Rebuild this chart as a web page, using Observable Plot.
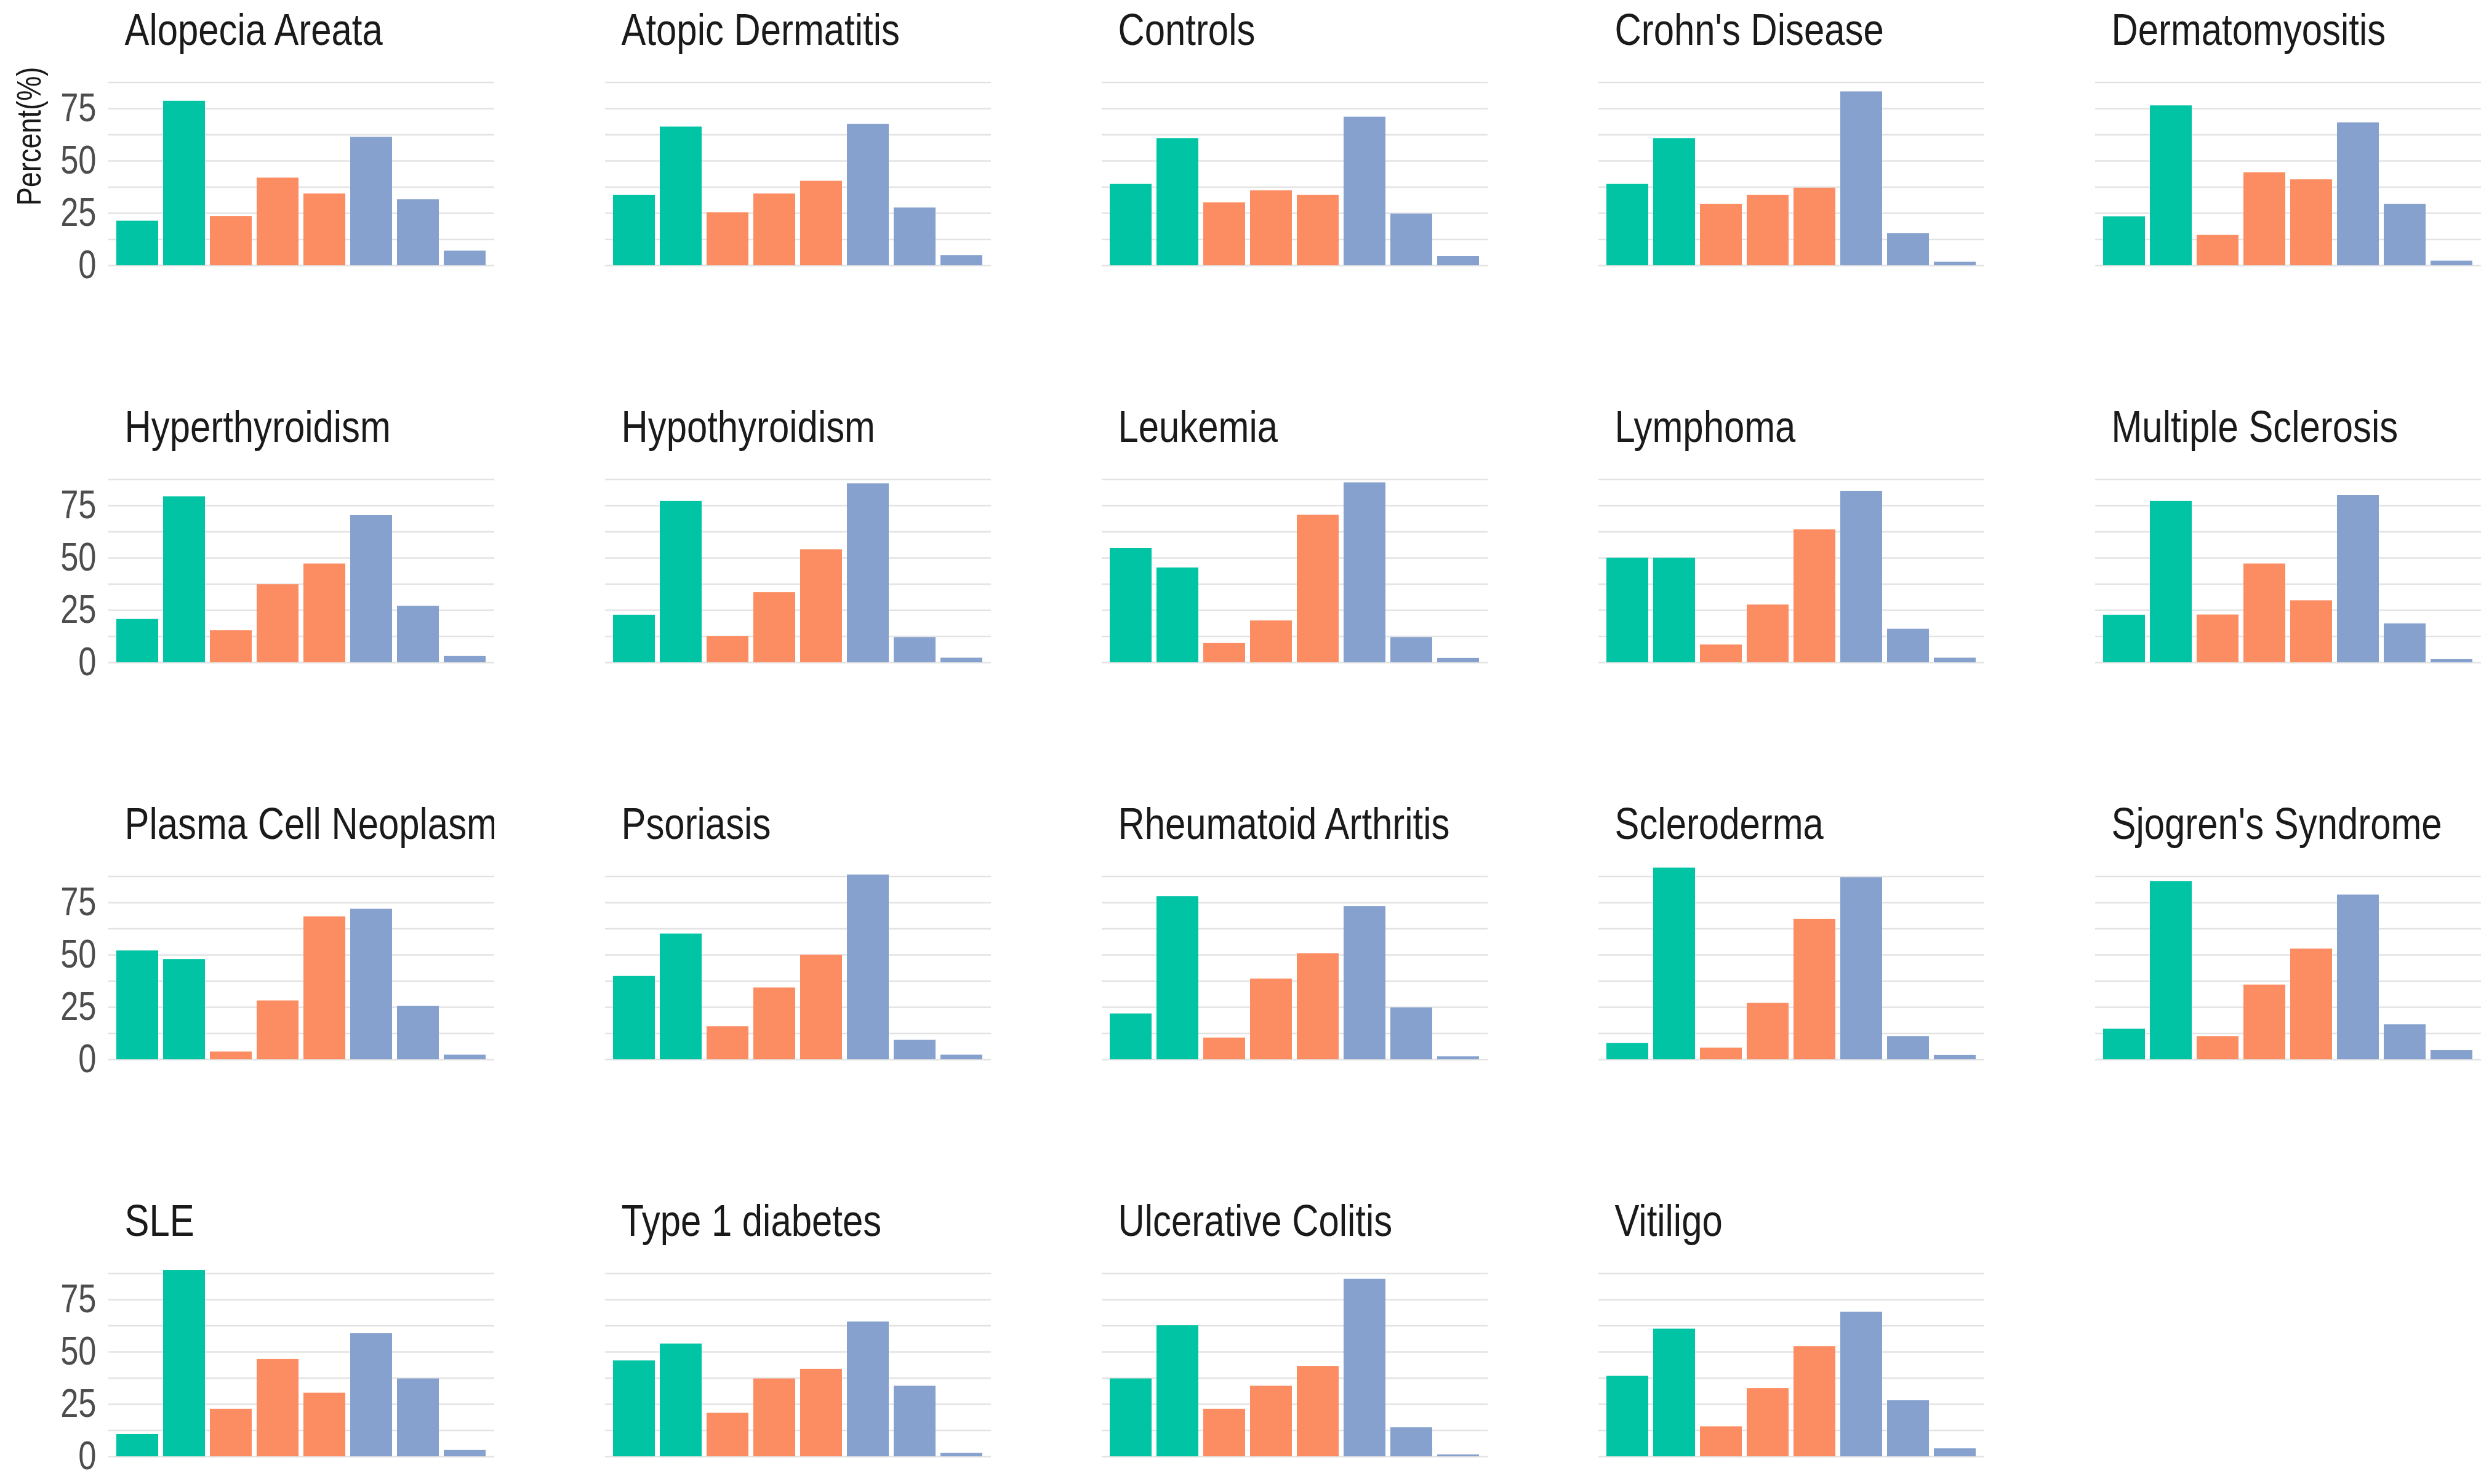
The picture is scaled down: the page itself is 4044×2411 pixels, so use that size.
<!DOCTYPE html>
<html>
<head>
<meta charset="utf-8">
<script src="https://cdn.jsdelivr.net/npm/d3@7"></script>
<script src="https://cdn.jsdelivr.net/npm/@observablehq/plot@0.6"></script>
<style>
  html, body { margin: 0; padding: 0; background: #ffffff; }
</style>
</head>
<body>
<div id="chart"></div>
<script>
// ---- data ----
const panelNames = [
  "Alopecia Areata", "Atopic Dermatitis", "Controls", "Crohn's Disease", "Dermatomyositis",
  "Hyperthyroidism", "Hypothyroidism", "Leukemia", "Lymphoma", "Multiple Sclerosis",
  "Plasma Cell Neoplasm", "Psoriasis", "Rheumatoid Arthritis", "Scleroderma", "Sjogren's Syndrome",
  "SLE", "Type 1 diabetes", "Ulcerative Colitis", "Vitiligo"
];
const categories = ["A1", "A2", "G1", "G2", "G3", "H1", "H2", "H3"];
const categoryGroup = ["Group 1", "Group 1", "Group 2", "Group 2", "Group 2", "Group 3", "Group 3", "Group 3"];
const groupNames = ["Group 1", "Group 2", "Group 3"];
const groupColors = ["#00c4a4", "#fc8d62", "#86a1cd"];
const yTicks = [0, 25, 50, 75];
const gridValues = [0, 12.5, 25, 37.5, 50, 62.5, 75, 87.5];
const yLabel = "Percent(%)";

const alopeciaAreata      = [21.3, 78.6, 23.5, 41.9, 34.3, 61.4, 31.6, 7.0];
const atopicDermatitis    = [33.6, 66.3, 25.3, 34.3, 40.4, 67.6, 27.6, 4.9];
const controls            = [38.9, 60.8, 30.1, 35.8, 33.6, 71.0, 24.7, 4.4];
const crohnsDisease       = [38.9, 60.8, 29.4, 33.6, 37.1, 83.1, 15.3, 1.7];
const dermatomyositis     = [23.4, 76.4, 14.5, 44.4, 41.1, 68.3, 29.4, 2.2];
const hyperthyroidism     = [20.7, 79.3, 15.3, 37.3, 47.2, 70.3, 27.0, 3.0];
const hypothyroidism      = [22.7, 77.1, 12.6, 33.5, 54.0, 85.5, 12.0, 2.2];
const leukemia            = [54.7, 45.3, 9.2, 20.0, 70.5, 86.0, 12.0, 2.1];
const lymphoma            = [50.0, 50.0, 8.5, 27.6, 63.5, 81.8, 16.0, 2.2];
const multipleSclerosis   = [22.7, 77.1, 22.8, 47.2, 29.6, 80.0, 18.6, 1.5];
const plasmaCellNeoplasm  = [52.0, 47.9, 3.7, 28.1, 68.3, 71.9, 25.6, 2.2];
const psoriasis           = [39.8, 60.1, 15.8, 34.3, 50.0, 88.3, 9.3, 2.2];
const rheumatoidArthritis = [21.9, 77.9, 10.4, 38.6, 50.7, 73.2, 24.8, 1.4];
const scleroderma         = [7.8, 91.6, 5.6, 27.0, 67.1, 87.0, 11.1, 2.1];
const sjogrensSyndrome    = [14.6, 85.2, 11.1, 35.7, 52.9, 78.7, 16.7, 4.4];
const sle                 = [10.6, 89.1, 22.7, 46.5, 30.4, 58.8, 37.2, 3.0];
const type1Diabetes       = [45.8, 53.9, 20.8, 37.2, 41.8, 64.4, 33.7, 1.6];
const ulcerativeColitis   = [37.2, 62.6, 22.7, 33.7, 43.2, 84.8, 13.9, 0.9];
const vitiligo            = [38.5, 61.0, 14.3, 32.6, 52.6, 69.1, 26.8, 3.8];

const panelValues = [
  alopeciaAreata, atopicDermatitis, controls, crohnsDisease, dermatomyositis,
  hyperthyroidism, hypothyroidism, leukemia, lymphoma, multipleSclerosis,
  plasmaCellNeoplasm, psoriasis, rheumatoidArthritis, scleroderma, sjogrensSyndrome,
  sle, type1Diabetes, ulcerativeColitis, vitiligo
];

// ---- tables built from the arrays ----
const nCols = 5;
const panels = panelNames.map((name, i) => ({name, col: i % nCols, row: Math.floor(i / nCols)}));
const bars = panels.flatMap((p, i) => panelValues[i].map((v, j) => ({
  ...p, cat: categories[j], group: categoryGroup[j], value: v
})));
const grid = panels.flatMap(p => gridValues.map(g => ({...p, g})));
const axisTitle = [{col: 0, row: 0, label: yLabel}];

const FONT = "'Liberation Sans Narrow', 'Liberation Sans', Arial, sans-serif";
const NARROW = 0.82; // horizontal condensing of the reference's narrow type

const chart = Plot.plot({
  width: 4044,
  height: 2411,
  marginLeft: 176,
  marginRight: 12,
  marginTop: 10,
  marginBottom: 45,
  style: {fontFamily: FONT, background: "#ffffff", overflow: "visible"},
  fx: {domain: [0, 1, 2, 3, 4], paddingInner: 0.223, paddingOuter: 0, axis: null},
  fy: {domain: [0, 1, 2, 3], paddingInner: 0.3491, paddingOuter: 0, axis: null},
  x: {domain: categories, paddingInner: 0.1, paddingOuter: 0.15, axis: null},
  y: {domain: [0, 123.53]},
  color: {domain: groupNames, range: groupColors},
  marks: [
    Plot.ruleY(grid, {fx: "col", fy: "row", y: "g", stroke: "#e3e3e3", strokeWidth: 2.6}),
    Plot.barY(bars, {fx: "col", fy: "row", x: "cat", y: "value", fill: "group"}),
    Plot.axisY({
      ticks: yTicks, tickSize: 0, tickPadding: 20, fontSize: 64,
      fill: "#4d4d4d", facetAnchor: "left", label: null
    }),
    Plot.text(panels, {
      fx: "col", fy: "row", text: "name", frameAnchor: "top-left",
      dx: 26, dy: 61, lineAnchor: "bottom", textAnchor: "start",
      fontSize: 73, fill: "#1a1a1a", clip: "frame"
    }),
    Plot.text(axisTitle, {
      fx: "col", fy: "row", text: "label", frameAnchor: "top-left",
      dx: -128, dy: 210, rotate: -90, textAnchor: "middle", lineAnchor: "middle",
      fontSize: 55, fill: "#1a1a1a"
    })
  ]
});

document.getElementById("chart").appendChild(chart);

// condense every text horizontally around its own anchor (narrow typeface look)
d3.select(chart).selectAll("text").each(function () {
  const t = this.getAttribute("transform") || "";
  let x = parseFloat(this.getAttribute("x"));
  if (!isFinite(x)) x = 0;
  this.setAttribute("transform",
    `${t} translate(${x},0) scale(${NARROW},1) translate(${-x},0)`.trim());
});
</script>
</body>
</html>
